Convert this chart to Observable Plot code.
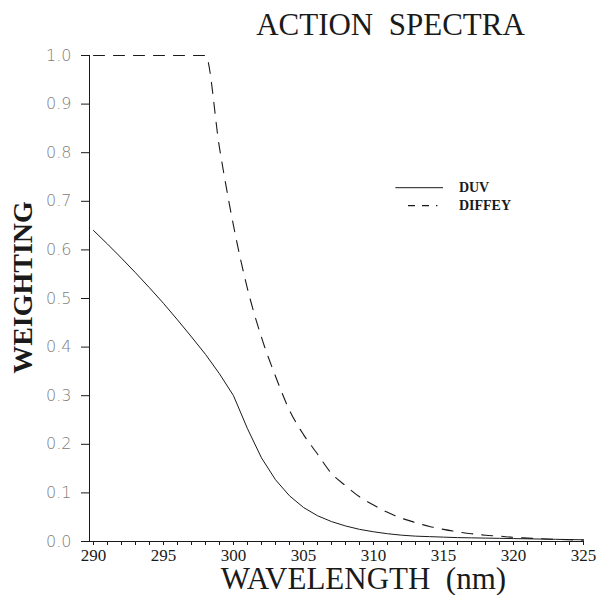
<!DOCTYPE html>
<html>
<head>
<meta charset="utf-8">
<script src="https://cdn.jsdelivr.net/npm/d3@7"></script>
<script src="https://cdn.jsdelivr.net/npm/@observablehq/plot@0.6"></script>
<style>
  body { margin: 0; background: #fff; }
  svg text { white-space: pre; }
</style>
</head>
<body>
<div id="chart"></div>
<script>
const wavelengths = [290,291,292,293,294,295,296,297,298,299,300,301,302,303,304,305,306,307,308,309,310,311,312,313,314,315,316,317,318,319,320,321,322,323,324,325];
const duv = [0.64,0.612,0.583,0.553,0.522,0.49,0.456,0.421,0.385,0.345,0.30,0.232,0.172,0.127,0.094,0.070,0.053,0.041,0.032,0.025,0.020,0.016,0.013,0.011,0.010,0.009,0.008,0.0075,0.007,0.0065,0.006,0.0055,0.005,0.0045,0.004,0.0035];
const diffey = [1,1,1,1,1,1,1,1,1,0.81,0.65,0.52,0.42,0.34,0.27,0.22,0.18,0.14,0.115,0.092,0.075,0.060,0.048,0.039,0.031,0.025,0.020,0.016,0.013,0.011,0.0086,0.007,0.0056,0.0045,0.0036,0.0029];
const yTicks = [0,0.1,0.2,0.3,0.4,0.5,0.6,0.7,0.8,0.9,1.0];
const xMajorTicks = [290,295,300,305,310,315,320,325];
const xMinorTicks = d3.range(290, 326, 1);
const seriesNames = ["DUV", "DIFFEY"];
const titleText = "ACTION  SPECTRA";
const xLabel = "WAVELENGTH  (nm)";
const yLabel = "WEIGHTING";

const rows = wavelengths.map((w, i) => ({w, duv: duv[i], diffey: diffey[i]}));
const serif = "'Liberation Serif', 'DejaVu Serif', serif";
const ink = "#1a1a1a";

const chart = Plot.plot({
  width: 599,
  height: 595,
  marginLeft: 93,
  marginRight: 16,
  marginTop: 55,
  marginBottom: 54,
  style: {background: "#fff", overflow: "visible"},
  x: {domain: [290, 325]},
  y: {domain: [0, 1]},
  marks: [
    // y axis
    Plot.ruleX([290], {y1: 0, y2: 1, stroke: ink, strokeWidth: 1, dx: -4}),
    Plot.axisY({
      ticks: yTicks, tickSize: 8, tickPadding: 10, dx: -4,
      tickFormat: d3.format(".1f"),
      fontSize: 16, fill: "#808080",
      fontFamily: "'DejaVu Sans', sans-serif", fontWeight: 200,
      stroke: ink, label: null
    }),
    // x axis
    Plot.ruleY([0], {x1: 289.7, x2: 325, stroke: ink, strokeWidth: 1}),
    Plot.axisX({ticks: xMinorTicks, tickSize: 4, tickFormat: () => "", label: null, stroke: ink, strokeWidth: 1}),
    Plot.text(xMajorTicks, {x: d => d, y: 0, text: d => String(d), dy: 14, lineAnchor: "middle", fontSize: 17, fontFamily: serif, fill: ink}),
    // curves
    Plot.line(rows, {x: "w", y: "duv", stroke: ink, strokeWidth: 1, curve: "linear"}),
    Plot.line(rows, {x: "w", y: "diffey", stroke: ink, strokeWidth: 1.1, strokeDasharray: "11,9", curve: "monotone-x"}),
    // legend
    Plot.ruleY([0.728], {x1: 311.6, x2: 315.0, stroke: ink, strokeWidth: 1}),
    Plot.ruleY([0.691], {x1: 312.5, x2: 314.6, stroke: ink, strokeWidth: 1.1, strokeDasharray: "7,7"}),
    Plot.text([seriesNames[0]], {x: 316.1, y: 0.728, text: d => d, textAnchor: "start", fontSize: 14, fontFamily: serif, fontWeight: 600, fill: ink}),
    Plot.text([seriesNames[1]], {x: 316.1, y: 0.691, text: d => d, textAnchor: "start", fontSize: 14, fontFamily: serif, fontWeight: 600, fill: ink}),
    // titles
    Plot.text([titleText], {frameAnchor: "top", text: d => d, lineAnchor: "middle", dx: 52, dy: -30, fontSize: 31, fontFamily: serif, fill: ink}),
    Plot.text([xLabel], {frameAnchor: "bottom", text: d => d, lineAnchor: "middle", dx: 25, dy: 38, fontSize: 31, fontFamily: serif, fill: ink}),
    Plot.text([yLabel], {frameAnchor: "left", text: d => d, rotate: -90, textAnchor: "middle", lineAnchor: "middle", dx: -70, dy: -11, fontSize: 28, fontFamily: serif, fontWeight: "bold", fill: ink})
  ]
});
document.getElementById("chart").appendChild(chart);
</script>
</body>
</html>
